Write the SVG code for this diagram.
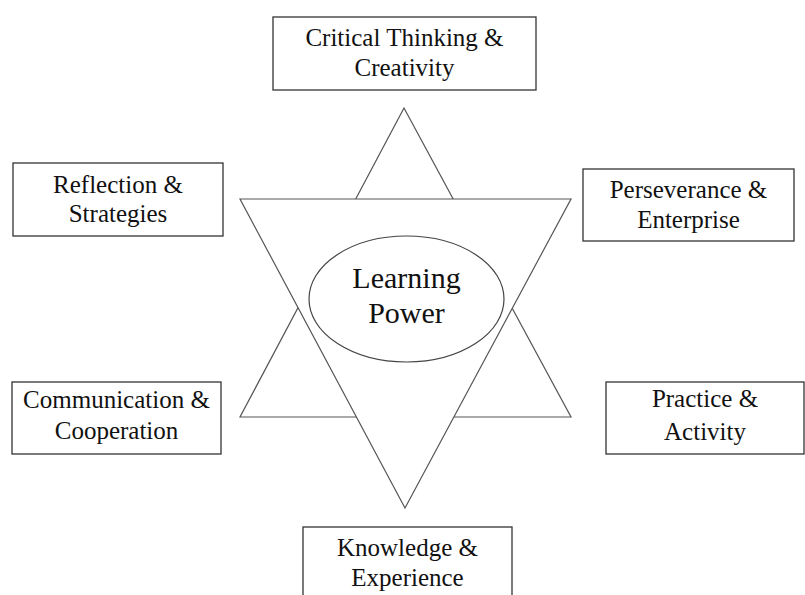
<svg xmlns="http://www.w3.org/2000/svg" width="805" height="595" viewBox="0 0 805 595">
<style>
.box{fill:#fff;stroke:#333;stroke-width:1.3}
.tri{fill:#fff;stroke:#555;stroke-width:1.2}
.t{font-family:"Liberation Serif","Times New Roman",serif;font-size:25px;fill:#111;text-anchor:middle}
.c{font-family:"Liberation Serif","Times New Roman",serif;font-size:30px;fill:#111;text-anchor:middle}
</style>
<rect width="805" height="595" fill="#fff"/>
<g id="star">
<polygon class="tri" points="404,108 571,417 240,417"/>
<polygon class="tri" points="240,199 571,199 405,508"/>
</g>
<g id="center">
<ellipse cx="406.5" cy="299" rx="97.5" ry="63" fill="#fff" stroke="#444" stroke-width="1.2"/>
<text class="c" x="406.5" y="288">Learning</text>
<text class="c" x="406.5" y="323">Power</text>
</g>
<g id="critical">
<rect class="box" x="273" y="17" width="263" height="73"/>
<text class="t" x="404.5" y="46">Critical Thinking &amp;</text>
<text class="t" x="404.5" y="76">Creativity</text>
</g>
<g id="reflection">
<rect class="box" x="13" y="163" width="210" height="73"/>
<text class="t" x="118" y="193">Reflection &amp;</text>
<text class="t" x="118" y="222">Strategies</text>
</g>
<g id="perseverance">
<rect class="box" x="583" y="169" width="211" height="72"/>
<text class="t" x="688.5" y="198">Perseverance &amp;</text>
<text class="t" x="688.5" y="228">Enterprise</text>
</g>
<g id="communication">
<rect class="box" x="12" y="382" width="209" height="72"/>
<text class="t" x="116.5" y="408">Communication &amp;</text>
<text class="t" x="116.5" y="439">Cooperation</text>
</g>
<g id="practice">
<rect class="box" x="606" y="382" width="198" height="72"/>
<text class="t" x="705" y="407">Practice &amp;</text>
<text class="t" x="705" y="440">Activity</text>
</g>
<g id="knowledge">
<rect class="box" x="303" y="527" width="209" height="80"/>
<text class="t" x="407.5" y="556">Knowledge &amp;</text>
<text class="t" x="407.5" y="586">Experience</text>
</g>
<g id="connectors"></g>
</svg>
